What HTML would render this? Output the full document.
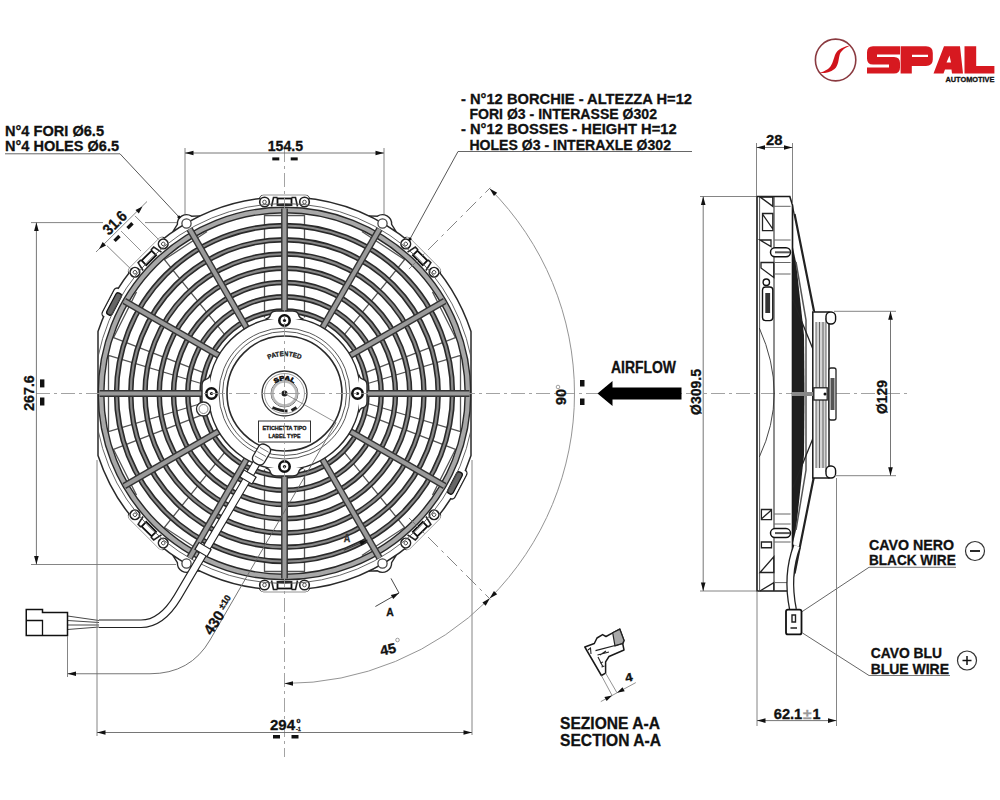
<!DOCTYPE html>
<html><head><meta charset="utf-8"><style>
html,body{margin:0;padding:0;background:#fff;width:1000px;height:800px;overflow:hidden}
svg{display:block}
text{font-family:"Liberation Sans",sans-serif;font-weight:bold;fill:#111;stroke:#111;stroke-width:0.3}
</style></head><body>
<svg width="1000" height="800" viewBox="0 0 1000 800">
<defs>
<clipPath id="flat"><rect x="97.5" y="0" width="374" height="800"/></clipPath>
<marker id="arr" viewBox="0 0 10 6" refX="10" refY="3" markerWidth="10" markerHeight="6" markerUnits="userSpaceOnUse" orient="auto-start-reverse"><path d="M0,0.6 L10,3 L0,5.4 Z" fill="#111"/></marker>
</defs>
<g><g transform="rotate(30 284.5 393.5)"><path d="M268.5,197.65 L276.3,193.5 A9.2,9.2 0 0 1 292.7,193.5 L300.5,197.65 Z" fill="#fff" stroke="#2a2a2a" stroke-width="1.4"/></g><g transform="rotate(150 284.5 393.5)"><path d="M268.5,197.65 L276.3,193.5 A9.2,9.2 0 0 1 292.7,193.5 L300.5,197.65 Z" fill="#fff" stroke="#2a2a2a" stroke-width="1.4"/></g><g transform="rotate(210 284.5 393.5)"><path d="M268.5,197.65 L276.3,193.5 A9.2,9.2 0 0 1 292.7,193.5 L300.5,197.65 Z" fill="#fff" stroke="#2a2a2a" stroke-width="1.4"/></g><g transform="rotate(330 284.5 393.5)"><path d="M268.5,197.65 L276.3,193.5 A9.2,9.2 0 0 1 292.7,193.5 L300.5,197.65 Z" fill="#fff" stroke="#2a2a2a" stroke-width="1.4"/></g><g transform="rotate(0 284.5 393.5)"><rect x="259.5" y="195.5" width="50" height="13" rx="4" fill="#fff" stroke="#2a2a2a" stroke-width="1.3"/></g><g transform="rotate(45 284.5 393.5)"><rect x="259.5" y="195.5" width="50" height="13" rx="4" fill="#fff" stroke="#2a2a2a" stroke-width="1.3"/></g><g transform="rotate(135 284.5 393.5)"><rect x="259.5" y="195.5" width="50" height="13" rx="4" fill="#fff" stroke="#2a2a2a" stroke-width="1.3"/></g><g transform="rotate(180 284.5 393.5)"><rect x="259.5" y="195.5" width="50" height="13" rx="4" fill="#fff" stroke="#2a2a2a" stroke-width="1.3"/></g><g transform="rotate(225 284.5 393.5)"><rect x="259.5" y="195.5" width="50" height="13" rx="4" fill="#fff" stroke="#2a2a2a" stroke-width="1.3"/></g><g transform="rotate(315 284.5 393.5)"><rect x="259.5" y="195.5" width="50" height="13" rx="4" fill="#fff" stroke="#2a2a2a" stroke-width="1.3"/></g><g transform="rotate(117.7 284.5 393.5)"><rect x="268.5" y="194.5" width="32" height="13" rx="3.5" fill="#fff" stroke="#2a2a2a" stroke-width="1.4"/></g><g transform="rotate(297.7 284.5 393.5)"><rect x="268.5" y="194.5" width="32" height="13" rx="3.5" fill="#fff" stroke="#2a2a2a" stroke-width="1.4"/></g><path d="M471,331.61 A196.5,196.5 0 0 0 98,331.61 L98,455.39 A196.5,196.5 0 0 0 471,455.39 Z" fill="#fff" stroke="#2a2a2a" stroke-width="1.5"/><g transform="rotate(0 284.5 393.5)"><rect x="260.2" y="195.2" width="48.6" height="12" rx="3.5" fill="#fff" stroke="none"/><circle cx="264.5" cy="202.0" r="4.8" fill="#fff" stroke="#222" stroke-width="1.6"/><circle cx="264.5" cy="202.0" r="1.8" fill="none" stroke="#444" stroke-width="0.9"/><circle cx="304.5" cy="202.0" r="4.8" fill="#fff" stroke="#222" stroke-width="1.6"/><circle cx="304.5" cy="202.0" r="1.8" fill="none" stroke="#444" stroke-width="0.9"/><path d="M271.5,206.5 L273.5,197.5 L277.5,197.5 M291.5,197.5 L295.5,197.5 L297.5,206.5" fill="none" stroke="#222" stroke-width="1.6"/><rect x="277.5" y="198.5" width="14" height="6.5" fill="#fff" stroke="#111" stroke-width="1.8"/></g><g transform="rotate(45 284.5 393.5)"><rect x="260.2" y="195.2" width="48.6" height="12" rx="3.5" fill="#fff" stroke="none"/><circle cx="264.5" cy="202.0" r="4.8" fill="#fff" stroke="#222" stroke-width="1.6"/><circle cx="264.5" cy="202.0" r="1.8" fill="none" stroke="#444" stroke-width="0.9"/><circle cx="304.5" cy="202.0" r="4.8" fill="#fff" stroke="#222" stroke-width="1.6"/><circle cx="304.5" cy="202.0" r="1.8" fill="none" stroke="#444" stroke-width="0.9"/><path d="M271.5,206.5 L273.5,197.5 L277.5,197.5 M291.5,197.5 L295.5,197.5 L297.5,206.5" fill="none" stroke="#222" stroke-width="1.6"/><rect x="277.5" y="198.5" width="14" height="6.5" fill="#fff" stroke="#111" stroke-width="1.8"/></g><g transform="rotate(135 284.5 393.5)"><rect x="260.2" y="195.2" width="48.6" height="12" rx="3.5" fill="#fff" stroke="none"/><circle cx="264.5" cy="202.0" r="4.8" fill="#fff" stroke="#222" stroke-width="1.6"/><circle cx="264.5" cy="202.0" r="1.8" fill="none" stroke="#444" stroke-width="0.9"/><circle cx="304.5" cy="202.0" r="4.8" fill="#fff" stroke="#222" stroke-width="1.6"/><circle cx="304.5" cy="202.0" r="1.8" fill="none" stroke="#444" stroke-width="0.9"/><path d="M271.5,206.5 L273.5,197.5 L277.5,197.5 M291.5,197.5 L295.5,197.5 L297.5,206.5" fill="none" stroke="#222" stroke-width="1.6"/><rect x="277.5" y="198.5" width="14" height="6.5" fill="#fff" stroke="#111" stroke-width="1.8"/></g><g transform="rotate(180 284.5 393.5)"><rect x="260.2" y="195.2" width="48.6" height="12" rx="3.5" fill="#fff" stroke="none"/><circle cx="264.5" cy="202.0" r="4.8" fill="#fff" stroke="#222" stroke-width="1.6"/><circle cx="264.5" cy="202.0" r="1.8" fill="none" stroke="#444" stroke-width="0.9"/><circle cx="304.5" cy="202.0" r="4.8" fill="#fff" stroke="#222" stroke-width="1.6"/><circle cx="304.5" cy="202.0" r="1.8" fill="none" stroke="#444" stroke-width="0.9"/><path d="M271.5,206.5 L273.5,197.5 L277.5,197.5 M291.5,197.5 L295.5,197.5 L297.5,206.5" fill="none" stroke="#222" stroke-width="1.6"/><rect x="277.5" y="198.5" width="14" height="6.5" fill="#fff" stroke="#111" stroke-width="1.8"/></g><g transform="rotate(225 284.5 393.5)"><rect x="260.2" y="195.2" width="48.6" height="12" rx="3.5" fill="#fff" stroke="none"/><circle cx="264.5" cy="202.0" r="4.8" fill="#fff" stroke="#222" stroke-width="1.6"/><circle cx="264.5" cy="202.0" r="1.8" fill="none" stroke="#444" stroke-width="0.9"/><circle cx="304.5" cy="202.0" r="4.8" fill="#fff" stroke="#222" stroke-width="1.6"/><circle cx="304.5" cy="202.0" r="1.8" fill="none" stroke="#444" stroke-width="0.9"/><path d="M271.5,206.5 L273.5,197.5 L277.5,197.5 M291.5,197.5 L295.5,197.5 L297.5,206.5" fill="none" stroke="#222" stroke-width="1.6"/><rect x="277.5" y="198.5" width="14" height="6.5" fill="#fff" stroke="#111" stroke-width="1.8"/></g><g transform="rotate(315 284.5 393.5)"><rect x="260.2" y="195.2" width="48.6" height="12" rx="3.5" fill="#fff" stroke="none"/><circle cx="264.5" cy="202.0" r="4.8" fill="#fff" stroke="#222" stroke-width="1.6"/><circle cx="264.5" cy="202.0" r="1.8" fill="none" stroke="#444" stroke-width="0.9"/><circle cx="304.5" cy="202.0" r="4.8" fill="#fff" stroke="#222" stroke-width="1.6"/><circle cx="304.5" cy="202.0" r="1.8" fill="none" stroke="#444" stroke-width="0.9"/><path d="M271.5,206.5 L273.5,197.5 L277.5,197.5 M291.5,197.5 L295.5,197.5 L297.5,206.5" fill="none" stroke="#222" stroke-width="1.6"/><rect x="277.5" y="198.5" width="14" height="6.5" fill="#fff" stroke="#111" stroke-width="1.8"/></g><g transform="rotate(117.7 284.5 393.5)"><rect x="269.2" y="195.2" width="30.6" height="11.6" rx="3" fill="#fff" stroke="none"/><rect x="272.5" y="198.0" width="24" height="6" rx="2.5" fill="#666" stroke="#111" stroke-width="1.3"/></g><g transform="rotate(297.7 284.5 393.5)"><rect x="269.2" y="195.2" width="30.6" height="11.6" rx="3" fill="#fff" stroke="none"/><rect x="272.5" y="198.0" width="24" height="6" rx="2.5" fill="#666" stroke="#111" stroke-width="1.3"/></g><path d="M264.50,317.50 L264.50,215.50 L304.50,215.50 L304.50,317.50 M342.55,336.95 L404.54,259.58 L361.88,231.48 M363.05,373.55 L455.42,337.54 L432.52,291.88 M364.50,384.50 L460.50,355.50 L460.50,431.50 L364.50,402.50 M363.05,413.45 L455.42,449.46 L432.52,495.12 M342.55,450.05 L404.54,527.42 L361.88,555.52 M304.50,469.50 L304.50,571.50 L264.50,571.50 L264.50,469.50 M226.45,450.05 L164.46,527.42 L207.12,555.52 M205.95,413.45 L113.58,449.46 L136.48,495.12 M204.50,402.50 L108.50,431.50 L108.50,355.50 L204.50,384.50 M205.95,373.55 L113.58,337.54 L136.48,291.88 M226.45,336.95 L164.46,259.58 L207.12,231.48" fill="none" stroke="#555" stroke-width="1.3"/><g clip-path="url(#flat)"><circle cx="284.5" cy="393.5" r="183.5" fill="none" stroke="#2a2a2a" stroke-width="7"/><circle cx="284.5" cy="393.5" r="183.5" fill="none" stroke="#a8a8a8" stroke-width="4.2"/></g><g clip-path="url(#flat)"><circle cx="284.5" cy="393.5" r="190" fill="none" stroke="#555" stroke-width="0.9"/></g><circle cx="186.5" cy="223.5" r="4.6" fill="#fff" stroke="#444" stroke-width="1.3"/><circle cx="382.5" cy="223.5" r="4.6" fill="#fff" stroke="#444" stroke-width="1.3"/><circle cx="186.5" cy="563.5" r="4.6" fill="#fff" stroke="#444" stroke-width="1.3"/><circle cx="382.5" cy="563.5" r="4.6" fill="#fff" stroke="#444" stroke-width="1.3"/><circle cx="284.5" cy="393.5" r="82.50" fill="none" stroke="#2a2a2a" stroke-width="5.4"/><circle cx="284.5" cy="393.5" r="82.50" fill="none" stroke="#888" stroke-width="2.2"/><circle cx="284.5" cy="393.5" r="96.75" fill="none" stroke="#2a2a2a" stroke-width="5.4"/><circle cx="284.5" cy="393.5" r="96.75" fill="none" stroke="#888" stroke-width="2.2"/><circle cx="284.5" cy="393.5" r="111.00" fill="none" stroke="#2a2a2a" stroke-width="5.4"/><circle cx="284.5" cy="393.5" r="111.00" fill="none" stroke="#888" stroke-width="2.2"/><circle cx="284.5" cy="393.5" r="125.25" fill="none" stroke="#2a2a2a" stroke-width="5.4"/><circle cx="284.5" cy="393.5" r="125.25" fill="none" stroke="#888" stroke-width="2.2"/><circle cx="284.5" cy="393.5" r="139.50" fill="none" stroke="#2a2a2a" stroke-width="5.4"/><circle cx="284.5" cy="393.5" r="139.50" fill="none" stroke="#888" stroke-width="2.2"/><circle cx="284.5" cy="393.5" r="153.75" fill="none" stroke="#2a2a2a" stroke-width="5.4"/><circle cx="284.5" cy="393.5" r="153.75" fill="none" stroke="#888" stroke-width="2.2"/><circle cx="284.5" cy="393.5" r="168.00" fill="none" stroke="#2a2a2a" stroke-width="5.4"/><circle cx="284.5" cy="393.5" r="168.00" fill="none" stroke="#888" stroke-width="2.2"/><line x1="284.50" y1="319.50" x2="284.50" y2="208.50" stroke="#333" stroke-width="6.8"/><line x1="284.50" y1="319.50" x2="284.50" y2="208.50" stroke="#9a9a9a" stroke-width="4"/><line x1="321.50" y1="329.41" x2="379.50" y2="228.96" stroke="#333" stroke-width="6.8"/><line x1="321.50" y1="329.41" x2="379.50" y2="228.96" stroke="#9a9a9a" stroke-width="4"/><line x1="348.59" y1="356.50" x2="444.71" y2="301.00" stroke="#333" stroke-width="6.8"/><line x1="348.59" y1="356.50" x2="444.71" y2="301.00" stroke="#9a9a9a" stroke-width="4"/><line x1="358.50" y1="393.50" x2="469.50" y2="393.50" stroke="#333" stroke-width="6.8"/><line x1="358.50" y1="393.50" x2="469.50" y2="393.50" stroke="#9a9a9a" stroke-width="4"/><line x1="348.59" y1="430.50" x2="444.71" y2="486.00" stroke="#333" stroke-width="6.8"/><line x1="348.59" y1="430.50" x2="444.71" y2="486.00" stroke="#9a9a9a" stroke-width="4"/><line x1="321.50" y1="457.59" x2="379.50" y2="558.04" stroke="#333" stroke-width="6.8"/><line x1="321.50" y1="457.59" x2="379.50" y2="558.04" stroke="#9a9a9a" stroke-width="4"/><line x1="284.50" y1="467.50" x2="284.50" y2="578.50" stroke="#333" stroke-width="6.8"/><line x1="284.50" y1="467.50" x2="284.50" y2="578.50" stroke="#9a9a9a" stroke-width="4"/><line x1="247.50" y1="457.59" x2="189.50" y2="558.04" stroke="#333" stroke-width="6.8"/><line x1="247.50" y1="457.59" x2="189.50" y2="558.04" stroke="#9a9a9a" stroke-width="4"/><line x1="220.41" y1="430.50" x2="124.29" y2="486.00" stroke="#333" stroke-width="6.8"/><line x1="220.41" y1="430.50" x2="124.29" y2="486.00" stroke="#9a9a9a" stroke-width="4"/><line x1="210.50" y1="393.50" x2="99.50" y2="393.50" stroke="#333" stroke-width="6.8"/><line x1="210.50" y1="393.50" x2="99.50" y2="393.50" stroke="#9a9a9a" stroke-width="4"/><line x1="220.41" y1="356.50" x2="124.29" y2="301.00" stroke="#333" stroke-width="6.8"/><line x1="220.41" y1="356.50" x2="124.29" y2="301.00" stroke="#9a9a9a" stroke-width="4"/><line x1="247.50" y1="329.41" x2="189.50" y2="228.96" stroke="#333" stroke-width="6.8"/><line x1="247.50" y1="329.41" x2="189.50" y2="228.96" stroke="#9a9a9a" stroke-width="4"/><circle cx="284.5" cy="393.5" r="76" fill="#fff" stroke="#2a2a2a" stroke-width="1.6"/><g transform="rotate(0 284.5 393.5)"><path d="M265.5,319.0 Q269.5,318.5 270.5,314.5 Q271.5,311.0 276.5,311.0 L292.5,311.0 Q297.5,311.0 298.5,314.5 Q299.5,318.5 303.5,319.0" fill="#fff" stroke="#2a2a2a" stroke-width="1.4"/></g><g transform="rotate(90 284.5 393.5)"><path d="M265.5,319.0 Q269.5,318.5 270.5,314.5 Q271.5,311.0 276.5,311.0 L292.5,311.0 Q297.5,311.0 298.5,314.5 Q299.5,318.5 303.5,319.0" fill="#fff" stroke="#2a2a2a" stroke-width="1.4"/></g><g transform="rotate(180 284.5 393.5)"><path d="M265.5,319.0 Q269.5,318.5 270.5,314.5 Q271.5,311.0 276.5,311.0 L292.5,311.0 Q297.5,311.0 298.5,314.5 Q299.5,318.5 303.5,319.0" fill="#fff" stroke="#2a2a2a" stroke-width="1.4"/></g><g transform="rotate(270 284.5 393.5)"><path d="M265.5,319.0 Q269.5,318.5 270.5,314.5 Q271.5,311.0 276.5,311.0 L292.5,311.0 Q297.5,311.0 298.5,314.5 Q299.5,318.5 303.5,319.0" fill="#fff" stroke="#2a2a2a" stroke-width="1.4"/></g><circle cx="203.5" cy="409" r="7" fill="#fff" stroke="#2a2a2a" stroke-width="1.3"/><circle cx="284.5" cy="393.5" r="74.6" fill="#fff" stroke="none"/><circle cx="203.5" cy="409" r="4.5" fill="none" stroke="#666" stroke-width="0.8"/><circle cx="284.5" cy="393.5" r="65.5" fill="none" stroke="#444" stroke-width="0.9"/><circle cx="284.5" cy="393.5" r="62" fill="none" stroke="#444" stroke-width="0.9"/><circle cx="284.5" cy="393.5" r="57.5" fill="none" stroke="#2a2a2a" stroke-width="1.6"/><circle cx="284.50" cy="320.50" r="5.2" fill="#fff" stroke="#111" stroke-width="2.6"/><circle cx="284.50" cy="320.50" r="1.6" fill="#111"/><circle cx="357.50" cy="393.50" r="5.2" fill="#fff" stroke="#111" stroke-width="2.6"/><circle cx="357.50" cy="393.50" r="1.6" fill="#111"/><circle cx="284.50" cy="466.50" r="5.2" fill="#fff" stroke="#111" stroke-width="2.6"/><circle cx="284.50" cy="466.50" r="1.6" fill="#111"/><circle cx="211.50" cy="393.50" r="5.2" fill="#fff" stroke="#111" stroke-width="2.6"/><circle cx="211.50" cy="393.50" r="1.6" fill="#111"/><circle cx="284.5" cy="393.5" r="22.5" fill="none" stroke="#333" stroke-width="1.3"/><circle cx="284.5" cy="393.5" r="13.5" fill="none" stroke="#666" stroke-width="1"/><circle cx="284.5" cy="393.5" r="3" fill="#222"/><circle cx="284.5" cy="393.5" r="20" fill="none" stroke="#888" stroke-width="0.8"/><circle cx="284.5" cy="393.5" r="12" fill="none" stroke="#bbb" stroke-width="2.5"/><path id="arcP" d="M259.1,365.9 A37.5,37.5 0 0 1 309.9,365.9" fill="none"/><path id="arcS" d="M272.2,387.9 A13.5,13.5 0 0 1 296.8,387.9" fill="none"/><text font-size="6" style="fill:#111;stroke-width:0.6"><textPath href="#arcS" startOffset="50%" text-anchor="middle" textLength="20" lengthAdjust="spacingAndGlyphs">SPAL</textPath></text><path d="M272.5,407.5 Q280.5,411.0 287.5,411.0 M291.5,410.5 L296.5,407.5" fill="none" stroke="#222" stroke-width="2.8"/><text font-size="6.8" style="fill:#222"><textPath href="#arcP" startOffset="50%" text-anchor="middle" textLength="33" lengthAdjust="spacingAndGlyphs">PATENTED</textPath></text><rect x="258.5" y="421" width="52" height="21" fill="#fff" stroke="#333" stroke-width="1"/><text x="284.5" y="430" font-size="5.6" text-anchor="middle" textLength="44" lengthAdjust="spacingAndGlyphs" style="fill:#222">ETICHETTA TIPO</text><text x="284.5" y="437.5" font-size="5.6" text-anchor="middle" textLength="32" lengthAdjust="spacingAndGlyphs" style="fill:#222">LABEL TYPE</text><line x1="284.5" y1="393.5" x2="336" y2="422.6" stroke="#666" stroke-width="0.7"/><path d="M263,452 L177.6,597 Q161.5,623.8 141,623.8 L99,623.8" fill="none" stroke="#222" stroke-width="8.6"/><path d="M263,452 L177.6,597 Q161.5,623.8 141,623.8 L99,623.8" fill="none" stroke="#fff" stroke-width="6.4"/><rect x="241" y="473" width="14" height="8" fill="#fff" stroke="#222" stroke-width="1.2" transform="rotate(30.5 248 477)"/><rect x="196" y="545.5" width="14" height="8" fill="#fff" stroke="#222" stroke-width="1.2" transform="rotate(30.5 203 549.5)"/><rect x="255" y="444" width="13" height="21" rx="5" fill="#fff" stroke="#222" stroke-width="1.3" transform="rotate(30 261.5 454.5)"/><path d="M256.5,449 L266.5,449 M256.5,454 L266.5,454 M256.5,459 L266.5,459" stroke="#666" stroke-width="0.8" transform="rotate(30 261.5 454.5)"/><path d="M99,620.5 L67.5,616 M99,622.5 L67.5,620.5 M99,625 L67.5,625 M99,627 L67.5,629.5" stroke="#333" stroke-width="0.9" fill="none"/><path d="M26.25,609.5 L42.5,609.5 L42.5,612.5 L67.5,612.5 L67.5,635.5 L26.25,635.5 Z" fill="#fff" stroke="#111" stroke-width="1.5"/><path d="M26.25,620.5 L42.5,620.5 L42.5,635.5" fill="none" stroke="#111" stroke-width="1.3"/></g>
<line x1="36" y1="393.5" x2="910" y2="393.5" stroke="#999" stroke-width="0.9" stroke-dasharray="14 4 3 4"/>
<line x1="284.5" y1="148" x2="284.5" y2="757" stroke="#999" stroke-width="0.9" stroke-dasharray="14 4 3 4"/>
<text x="5" y="136" font-size="14.5" text-anchor="start" textLength="99" lengthAdjust="spacingAndGlyphs" style="fill:#111;stroke:#111">N°4 FORI Ø6.5</text>
<text x="5" y="151.4" font-size="14.5" text-anchor="start" textLength="114" lengthAdjust="spacingAndGlyphs" style="fill:#111;stroke:#111">N°4 HOLES Ø6.5</text>
<line x1="5.00" y1="153.80" x2="120.00" y2="153.80" stroke="#555" stroke-width="0.9"/>
<line x1="120.00" y1="153.80" x2="179.00" y2="217.00" stroke="#444" stroke-width="0.9"/>
<circle cx="179" cy="217" r="1.6" fill="#111"/>
<text x="461" y="103.6" font-size="14.3" text-anchor="start" textLength="231" lengthAdjust="spacingAndGlyphs" style="fill:#111;stroke:#111">- N°12 BORCHIE - ALTEZZA H=12</text>
<text x="469.4" y="119" font-size="14.3" text-anchor="start" textLength="187.6" lengthAdjust="spacingAndGlyphs" style="fill:#111;stroke:#111">FORI Ø3 - INTERASSE Ø302</text>
<text x="461" y="134.4" font-size="14.3" text-anchor="start" textLength="215.6" lengthAdjust="spacingAndGlyphs" style="fill:#111;stroke:#111">- N°12 BOSSES - HEIGHT H=12</text>
<text x="469.4" y="149.8" font-size="14.3" text-anchor="start" textLength="201.6" lengthAdjust="spacingAndGlyphs" style="fill:#111;stroke:#111">HOLES Ø3 - INTERAXLE Ø302</text>
<line x1="458.00" y1="151.50" x2="692.00" y2="151.50" stroke="#555" stroke-width="0.9"/>
<line x1="458.00" y1="151.50" x2="410.00" y2="239.00" stroke="#444" stroke-width="0.9"/>
<circle cx="410" cy="239" r="1.6" fill="#111"/>
<text x="611" y="372.5" font-size="16" text-anchor="start" textLength="65" lengthAdjust="spacingAndGlyphs" style="fill:#111;stroke:#111">AIRFLOW</text>
<path d="M597.5,393.5 L612.5,381 L612.5,387.5 L681.5,387.5 L681.5,399.5 L612.5,399.5 L612.5,406 Z" fill="#000"/>
<text x="869" y="550" font-size="14" text-anchor="start" textLength="85" lengthAdjust="spacingAndGlyphs" style="fill:#111;stroke:#111">CAVO NERO</text>
<text x="869" y="565.3" font-size="14" text-anchor="start" textLength="86.7" lengthAdjust="spacingAndGlyphs" style="fill:#111;stroke:#111">BLACK WIRE</text>
<line x1="869.00" y1="567.30" x2="956.00" y2="567.30" stroke="#666" stroke-width="0.9"/>
<line x1="869.00" y1="567.30" x2="800.00" y2="613.00" stroke="#555" stroke-width="0.9"/>
<circle cx="975" cy="551" r="9.5" fill="none" stroke="#333" stroke-width="1.2"/>
<line x1="970.00" y1="551.00" x2="980.00" y2="551.00" stroke="#111" stroke-width="1.8"/>
<text x="870.7" y="658.2" font-size="14" text-anchor="start" textLength="71.3" lengthAdjust="spacingAndGlyphs" style="fill:#111;stroke:#111">CAVO BLU</text>
<text x="870.7" y="673.8" font-size="14" text-anchor="start" textLength="78.3" lengthAdjust="spacingAndGlyphs" style="fill:#111;stroke:#111">BLUE WIRE</text>
<line x1="869.00" y1="675.50" x2="950.00" y2="675.50" stroke="#666" stroke-width="0.9"/>
<line x1="869.00" y1="675.50" x2="802.50" y2="633.00" stroke="#555" stroke-width="0.9"/>
<circle cx="967" cy="660.5" r="9.5" fill="none" stroke="#333" stroke-width="1.2"/>
<line x1="962.50" y1="660.50" x2="971.50" y2="660.50" stroke="#111" stroke-width="1.5"/>
<line x1="967.00" y1="656.00" x2="967.00" y2="665.00" stroke="#111" stroke-width="1.5"/>
<text x="560" y="729.2" font-size="16.5" text-anchor="start" textLength="100" lengthAdjust="spacingAndGlyphs" style="fill:#111;stroke:#111">SEZIONE A-A</text>
<text x="560" y="746.2" font-size="16.8" text-anchor="start" textLength="101" lengthAdjust="spacingAndGlyphs" style="fill:#111;stroke:#111">SECTION A-A</text>
<line x1="185.00" y1="148.00" x2="185.00" y2="214.00" stroke="#777" stroke-width="0.9"/>
<line x1="384.00" y1="148.00" x2="384.00" y2="214.00" stroke="#777" stroke-width="0.9"/>
<line x1="185.00" y1="153.00" x2="384.00" y2="153.00" stroke="#666" stroke-width="0.9"/>
<path d="M185.00,153.00 L193.50,150.70 L193.50,155.30 Z" fill="#111"/>
<path d="M384.00,153.00 L375.50,155.30 L375.50,150.70 Z" fill="#111"/>
<text x="285.4" y="150.7" font-size="14.5" text-anchor="middle" textLength="35.3" lengthAdjust="spacingAndGlyphs" style="fill:#111;stroke:#111">154.5</text>
<rect x="272.3" y="157.4" width="7" height="3" fill="#111"/><rect x="290.7" y="157.4" width="7" height="3" fill="#111"/>
<line x1="31.00" y1="222.60" x2="103.00" y2="222.60" stroke="#777" stroke-width="0.9"/>
<line x1="145.00" y1="222.60" x2="177.00" y2="222.60" stroke="#777" stroke-width="0.9"/>
<line x1="31.00" y1="564.50" x2="176.00" y2="564.50" stroke="#777" stroke-width="0.9"/>
<line x1="36.40" y1="222.60" x2="36.40" y2="564.50" stroke="#666" stroke-width="0.9"/>
<path d="M36.40,222.60 L38.70,231.10 L34.10,231.10 Z" fill="#111"/>
<path d="M36.40,564.50 L34.10,556.00 L38.70,556.00 Z" fill="#111"/>
<text x="33.5" y="393" font-size="15.5" text-anchor="middle" textLength="35.6" lengthAdjust="spacingAndGlyphs" transform="rotate(-90 33.5 393)" style="fill:#111;stroke:#111">267.6</text>
<rect x="40" y="379.4" width="4.4" height="8" fill="#111"/><rect x="40" y="397.5" width="4.4" height="8" fill="#111"/>
<line x1="97.00" y1="460.00" x2="97.00" y2="736.00" stroke="#777" stroke-width="0.9"/>
<line x1="472.00" y1="460.00" x2="472.00" y2="735.00" stroke="#777" stroke-width="0.9"/>
<line x1="97.00" y1="732.50" x2="472.00" y2="732.50" stroke="#666" stroke-width="0.9"/>
<path d="M97.00,732.50 L105.50,730.20 L105.50,734.80 Z" fill="#111"/>
<path d="M472.00,732.50 L463.50,734.80 L463.50,730.20 Z" fill="#111"/>
<text x="270" y="729.8" font-size="15" text-anchor="start" textLength="25" lengthAdjust="spacingAndGlyphs" style="fill:#111;stroke:#111">294</text>
<text x="296.5" y="723" font-size="6" text-anchor="start" textLength="4" lengthAdjust="spacingAndGlyphs" style="fill:#111;stroke:#111">0</text>
<text x="296" y="730.5" font-size="6" text-anchor="start" textLength="5" lengthAdjust="spacingAndGlyphs" style="fill:#111;stroke:#111">-1</text>
<rect x="273" y="735" width="7" height="3.5" fill="#111"/><rect x="291.5" y="735" width="7" height="3.5" fill="#111"/>
<line x1="96.00" y1="252.00" x2="147.00" y2="201.50" stroke="#777" stroke-width="0.9"/>
<path d="M99.00,249.00 L102.66,242.03 L106.03,245.45 Z" fill="#111"/>
<path d="M142.50,206.50 L138.84,213.47 L135.47,210.05 Z" fill="#111"/>
<line x1="106.90" y1="245.70" x2="130.50" y2="268.70" stroke="#777" stroke-width="0.9"/>
<line x1="135.00" y1="215.90" x2="158.60" y2="239.50" stroke="#777" stroke-width="0.9"/>
<line x1="121.00" y1="231.00" x2="141.00" y2="251.00" stroke="#777" stroke-width="0.8"/>
<text x="118.5" y="226.5" font-size="15.5" text-anchor="middle" textLength="27" lengthAdjust="spacingAndGlyphs" transform="rotate(-45 118.5 226.5)" style="fill:#111;stroke:#111">31.6</text>
<rect x="126.5" y="224" width="7" height="3.4" fill="#111" transform="rotate(-45 130 225.7)"/>
<rect x="113.5" y="236.7" width="7" height="3.4" fill="#111" transform="rotate(-45 117 238.4)"/>
<path d="M489.56,188.44 A290,290 0 0 1 489.56,598.56" fill="none" stroke="#888" stroke-width="0.9"/>
<path d="M489.56,598.56 A290,290 0 0 1 284.50,683.50" fill="none" stroke="#888" stroke-width="0.9"/>
<path d="M489.56,188.44 L497.20,192.82 L493.95,196.08 Z" fill="#111"/>
<path d="M489.56,598.56 L493.95,590.92 L497.20,594.18 Z" fill="#111"/>
<path d="M490.06,598.06 L485.68,605.70 L482.42,602.45 Z" fill="#111"/>
<path d="M284.50,683.50 L293.00,681.20 L293.00,685.80 Z" fill="#111"/>
<line x1="408.95" y1="269.05" x2="490.27" y2="187.73" stroke="#777" stroke-width="0.9" stroke-dasharray="14 5 3 5"/>
<line x1="408.95" y1="517.95" x2="490.27" y2="599.27" stroke="#777" stroke-width="0.9" stroke-dasharray="14 5 3 5"/>
<text x="566" y="397" font-size="14" text-anchor="middle" textLength="16" lengthAdjust="spacingAndGlyphs" transform="rotate(-90 566 397)" style="fill:#111;stroke:#111">90</text>
<circle cx="558" cy="387" r="1.8" fill="none" stroke="#777" stroke-width="0.7"/>
<rect x="580" y="380" width="4.5" height="6.5" fill="#111"/><rect x="580" y="398.5" width="4.5" height="6.5" fill="#111"/>
<text x="389" y="654" font-size="14" text-anchor="middle" textLength="16" lengthAdjust="spacingAndGlyphs" transform="rotate(-12 389 654)" style="fill:#111;stroke:#111">45</text>
<circle cx="397.5" cy="640" r="1.8" fill="none" stroke="#777" stroke-width="0.7"/>
<line x1="391.00" y1="578.40" x2="399.00" y2="593.00" stroke="#333" stroke-width="0.9"/>
<line x1="375.40" y1="606.50" x2="399.00" y2="593.00" stroke="#333" stroke-width="0.9"/>
<path d="M399.00,593.00 L393.25,599.06 L390.86,594.89 Z" fill="#111"/>
<text x="390" y="615.5" font-size="11.5" text-anchor="middle" textLength="7.5" lengthAdjust="spacingAndGlyphs" style="fill:#111;stroke:#111">A</text>
<line x1="343.90" y1="550.25" x2="367.50" y2="540.00" stroke="#333" stroke-width="0.9"/>
<path d="M367.50,540.00 L361.12,545.39 L359.21,540.99 Z" fill="#111"/>
<text x="347" y="542.4" font-size="10" text-anchor="middle" textLength="6.5" lengthAdjust="spacingAndGlyphs" style="fill:#333;stroke:#333">A</text>
<path d="M67.5,673.75 L150,673.75 Q190.5,673.75 210,640 L336,422.6" fill="none" stroke="#666" stroke-width="0.9"/>
<line x1="67.50" y1="636.00" x2="67.50" y2="677.00" stroke="#777" stroke-width="0.9"/>
<path d="M67.50,673.75 L76.00,671.45 L76.00,676.05 Z" fill="#111"/>
<text x="211.5" y="636" font-size="15" text-anchor="start" textLength="25" lengthAdjust="spacingAndGlyphs" transform="rotate(-57 211.5 636)" style="fill:#111;stroke:#111">430</text>
<text x="223" y="610" font-size="9" text-anchor="start" textLength="15" lengthAdjust="spacingAndGlyphs" transform="rotate(-57 223 610)" style="fill:#111;stroke:#111">±10</text>
<g><path d="M792.5,245 L796,262 L804,335 L804.5,394 L804,455 L796,530 L792.5,545 Z" fill="#1e1e1e"/><path d="M796,262 L806,320 L806,470 L796,530" fill="none" stroke="#555" stroke-width="1.5"/><path d="M757,196.5 L789.8,196.5 L792.5,205 L792.5,582.5 L790.6,591 L757,591 Z" fill="none" stroke="#1a1a1a" stroke-width="1.6"/><line x1="759.6" y1="197" x2="759.6" y2="590.5" stroke="#444" stroke-width="0.9"/><line x1="774" y1="197" x2="774" y2="590.5" stroke="#333" stroke-width="1.1"/><path d="M759.3,328 Q789,394 759.3,457" fill="none" stroke="#333" stroke-width="0.9"/><path d="M760,197 L772.8,197 L772.8,206.3 Z" fill="none" stroke="#222" stroke-width="1.4"/><path d="M762.5,213.5 L772.8,213.5 L772.8,230.6 L762.5,230.6 Z M762.5,214 L772.8,229" fill="none" stroke="#222" stroke-width="1.3"/><path d="M760,240 L771,240 L771,246.6 Z" fill="none" stroke="#222" stroke-width="1.3"/><path d="M761,262.5 L773.8,262.5 L773.8,277.5 L761,268 Z" fill="none" stroke="#222" stroke-width="1.3"/><path d="M774,206.3 L790.6,206.3 M774,240 L790.6,240 M774,262.5 L790.6,262.5 M774,274 L790.6,274" stroke="#666" stroke-width="1"/><path d="M761.4,509.5 L771.5,509.5 L771.5,519.6 L761.4,519.6 Z M761.4,519 L771.5,510" fill="none" stroke="#222" stroke-width="1.3"/><path d="M761.4,542 L771.5,542 L771.5,547.75 L761.4,547.75 Z" fill="none" stroke="#222" stroke-width="1.3"/><path d="M760,572.5 L773.8,556.75 L773.8,572.5 Z M760,591 L773.8,582.6 L773.8,591" fill="none" stroke="#222" stroke-width="1.3"/><path d="M774,514 L790.6,514 M774,524 L790.6,524 M774,542 L790.6,542 M774,582.6 L790.6,582.6" stroke="#666" stroke-width="1"/><rect x="770.5" y="247.8" width="20" height="9" rx="4.5" fill="#fff" stroke="#111" stroke-width="1.5"/><line x1="775" y1="252.3" x2="790" y2="252.3" stroke="#555" stroke-width="2"/><rect x="770.5" y="528.6" width="20" height="9" rx="4.5" fill="#fff" stroke="#111" stroke-width="1.5"/><line x1="775" y1="533.1" x2="790" y2="533.1" stroke="#555" stroke-width="2"/><rect x="762.5" y="287" width="10.3" height="33.6" rx="3" fill="#fff" stroke="#111" stroke-width="1.4"/><rect x="765.3" y="293" width="4.8" height="20" fill="#333"/><circle cx="766.3" cy="282.2" r="3.2" fill="#fff" stroke="#111" stroke-width="1.4"/><path d="M792.5,206.00 L813.5,311.00 M795,214.00 L815,314.00 M793,300.00 L813.3,350.00" fill="none" stroke="#222" stroke-width="1.3"/><path d="M792.5,581.50 L813.5,476.50 M795,573.50 L815,473.50 M793,487.50 L813.3,437.50" fill="none" stroke="#222" stroke-width="1.3"/><rect x="812.8" y="312" width="16.2" height="166" fill="#fff" stroke="#1a1a1a" stroke-width="1.5"/><rect x="816" y="322" width="10" height="146" fill="#d4d4d4" stroke="none"/><path d="M816,322 L816,468 M819.5,322 L819.5,468 M823,322 L823,468 M826,318 L826,472" fill="none" stroke="#555" stroke-width="0.9"/><rect x="826" y="312" width="9.6" height="12" rx="4.5" fill="#fff" stroke="#111" stroke-width="1.4"/><rect x="826" y="466" width="9.6" height="12" rx="4.5" fill="#fff" stroke="#111" stroke-width="1.4"/><rect x="829" y="368" width="7" height="52" rx="2" fill="#fff" stroke="#222" stroke-width="1.3"/><rect x="830.5" y="378" width="4" height="32" fill="#555"/><line x1="792" y1="394" x2="814" y2="394" stroke="#888" stroke-width="4"/><rect x="813.8" y="387.8" width="13.4" height="12.2" fill="#fff" stroke="#222" stroke-width="1.3"/><circle cx="825" cy="394" r="1.5" fill="#111"/><path d="M797,546 Q786,575 793,609.5" fill="none" stroke="#222" stroke-width="8"/><path d="M797,546 Q786,575 793,609.5" fill="none" stroke="#fff" stroke-width="5.4"/><rect x="786" y="609.6" width="15.5" height="24.8" rx="2" fill="#fff" stroke="#111" stroke-width="1.8"/><path d="M790.5,628 L797,628 M792,622 L795.5,622 L795.5,615 L792,615 Z" fill="none" stroke="#222" stroke-width="1.4"/></g>
<line x1="756.50" y1="143.00" x2="756.50" y2="196.00" stroke="#777" stroke-width="0.9"/>
<line x1="792.50" y1="143.00" x2="792.50" y2="204.00" stroke="#777" stroke-width="0.9"/>
<line x1="756.50" y1="147.50" x2="792.50" y2="147.50" stroke="#666" stroke-width="0.9"/>
<path d="M756.50,147.50 L765.00,145.20 L765.00,149.80 Z" fill="#111"/>
<path d="M792.50,147.50 L784.00,149.80 L784.00,145.20 Z" fill="#111"/>
<text x="774.3" y="145" font-size="15" text-anchor="middle" textLength="16.5" lengthAdjust="spacingAndGlyphs" style="fill:#111;stroke:#111">28</text>
<line x1="700.00" y1="196.50" x2="756.00" y2="196.50" stroke="#777" stroke-width="0.9"/>
<line x1="700.00" y1="591.00" x2="756.00" y2="591.00" stroke="#777" stroke-width="0.9"/>
<line x1="703.20" y1="196.50" x2="703.20" y2="591.00" stroke="#666" stroke-width="0.9"/>
<path d="M703.20,196.50 L705.50,205.00 L700.90,205.00 Z" fill="#111"/>
<path d="M703.20,591.00 L700.90,582.50 L705.50,582.50 Z" fill="#111"/>
<text x="701" y="392" font-size="15" text-anchor="middle" textLength="46" lengthAdjust="spacingAndGlyphs" transform="rotate(-90 701 392)" style="fill:#111;stroke:#111">Ø309.5</text>
<line x1="834.00" y1="311.30" x2="896.00" y2="311.30" stroke="#777" stroke-width="0.9"/>
<line x1="835.00" y1="475.70" x2="896.00" y2="475.70" stroke="#777" stroke-width="0.9"/>
<line x1="890.50" y1="311.30" x2="890.50" y2="475.70" stroke="#666" stroke-width="0.9"/>
<path d="M890.50,311.30 L892.80,319.80 L888.20,319.80 Z" fill="#111"/>
<path d="M890.50,475.70 L888.20,467.20 L892.80,467.20 Z" fill="#111"/>
<text x="886.7" y="397" font-size="15" text-anchor="middle" textLength="33.8" lengthAdjust="spacingAndGlyphs" transform="rotate(-90 886.7 397)" style="fill:#111;stroke:#111">Ø129</text>
<line x1="757.00" y1="591.00" x2="757.00" y2="726.00" stroke="#777" stroke-width="0.9"/>
<line x1="836.50" y1="478.00" x2="836.50" y2="726.00" stroke="#777" stroke-width="0.9"/>
<line x1="757.00" y1="720.60" x2="836.50" y2="720.60" stroke="#666" stroke-width="0.9"/>
<path d="M757.00,720.60 L765.50,718.30 L765.50,722.90 Z" fill="#111"/>
<path d="M836.50,720.60 L828.00,722.90 L828.00,718.30 Z" fill="#111"/>
<text x="773.75" y="719" font-size="14.5" text-anchor="start" textLength="28.5" lengthAdjust="spacingAndGlyphs" style="fill:#111;stroke:#111">62.1</text>
<text x="803" y="719" font-size="14" text-anchor="start" textLength="8.5" lengthAdjust="spacingAndGlyphs" style="fill:#999;stroke:#999">±</text>
<text x="812.5" y="719" font-size="14.5" text-anchor="start" textLength="8" lengthAdjust="spacingAndGlyphs" style="fill:#111;stroke:#111">1</text>
<ellipse cx="835.6" cy="60" rx="20.2" ry="20.9" fill="none" stroke="#8a3a40" stroke-width="1.6"/>
<path d="M851,45.5 C845,46 837,49 835,55 C833,61 832,66 828,69 C825,71 822,72 819.5,73 C824,73.5 830,72.5 834.5,69 C838.5,66 838.5,59 839.5,55.5 C840.5,51 845,47.5 851,45.5 Z" fill="#d0141c"/>
<path fill-rule="evenodd" fill="#d71920" d="M873,46.3 H900 V54.5 H877 V57 H894 Q900,57 900,63 V67.5 Q900,73.6 894,73.6 H867 V67.5 H889 V64.5 H873 Q867,64.5 867,58.5 V52.3 Q867,46.3 873,46.3 Z M900.6,46.3 H926 Q932.8,46.3 932.8,53 V59.5 Q932.8,66 926,66 H911.8 V73.6 H900.6 Z M912,54.7 H928 V57 H912 Z M933.5,73.6 L944,46.3 H960 L963,73.6 H952 L951.5,69.5 H945 L943.5,73.6 Z M946.5,62.5 L949.5,55.5 L951,62.5 Z M964.5,46.3 H976.2 V66 H994.4 V73.6 H964.5 Z"/>
<text x="945.4" y="81.8" font-size="7.2" text-anchor="start" textLength="49" lengthAdjust="spacingAndGlyphs" style="fill:#111;stroke:#111">AUTOMOTIVE</text>
<path d="M584.8,647 L594.3,643.5 L597,638 L602.6,634.6 L606,636.5 L612.7,632.8 L619.8,629.2 L624,640.5 L622.8,644 L624,650 L609,656.5 L605.6,661.9 L605.6,673.1 L601.4,675.5 Z" fill="#fff" stroke="#1a1a1a" stroke-width="1.5" stroke-linejoin="round"/>
<path d="M612.7,632.8 L619.8,629.2 L624,640.5 L622.5,643.5 L615,646 Z" fill="#a9a9a9" stroke="#222" stroke-width="1.2"/>
<path d="M595.5,650.6 L622.8,643.5 M597.5,655 L609,652 M598,657 L603,667 M600,655 L606,651 M588,650 L590.5,648 L591,654" fill="none" stroke="#222" stroke-width="1.1"/>
<path d="M600,663 L603,662 M601.5,667 L604.5,666" stroke="#333" stroke-width="1.3"/>
<line x1="601.40" y1="675.50" x2="612.10" y2="695.50" stroke="#777" stroke-width="0.8"/>
<line x1="605.60" y1="673.10" x2="617.00" y2="692.80" stroke="#777" stroke-width="0.8"/>
<line x1="600.80" y1="701.60" x2="635.80" y2="682.60" stroke="#777" stroke-width="0.8"/>
<path d="M612.10,695.50 L606.61,701.10 L604.41,697.06 Z" fill="#111"/>
<path d="M617.00,692.80 L622.49,687.20 L624.69,691.24 Z" fill="#111"/>
<text x="629.7" y="681.4" font-size="12" text-anchor="middle" textLength="7.5" lengthAdjust="spacingAndGlyphs" transform="rotate(-12 629.7 681.4)" style="fill:#111;stroke:#111">4</text>
</svg></body></html>
